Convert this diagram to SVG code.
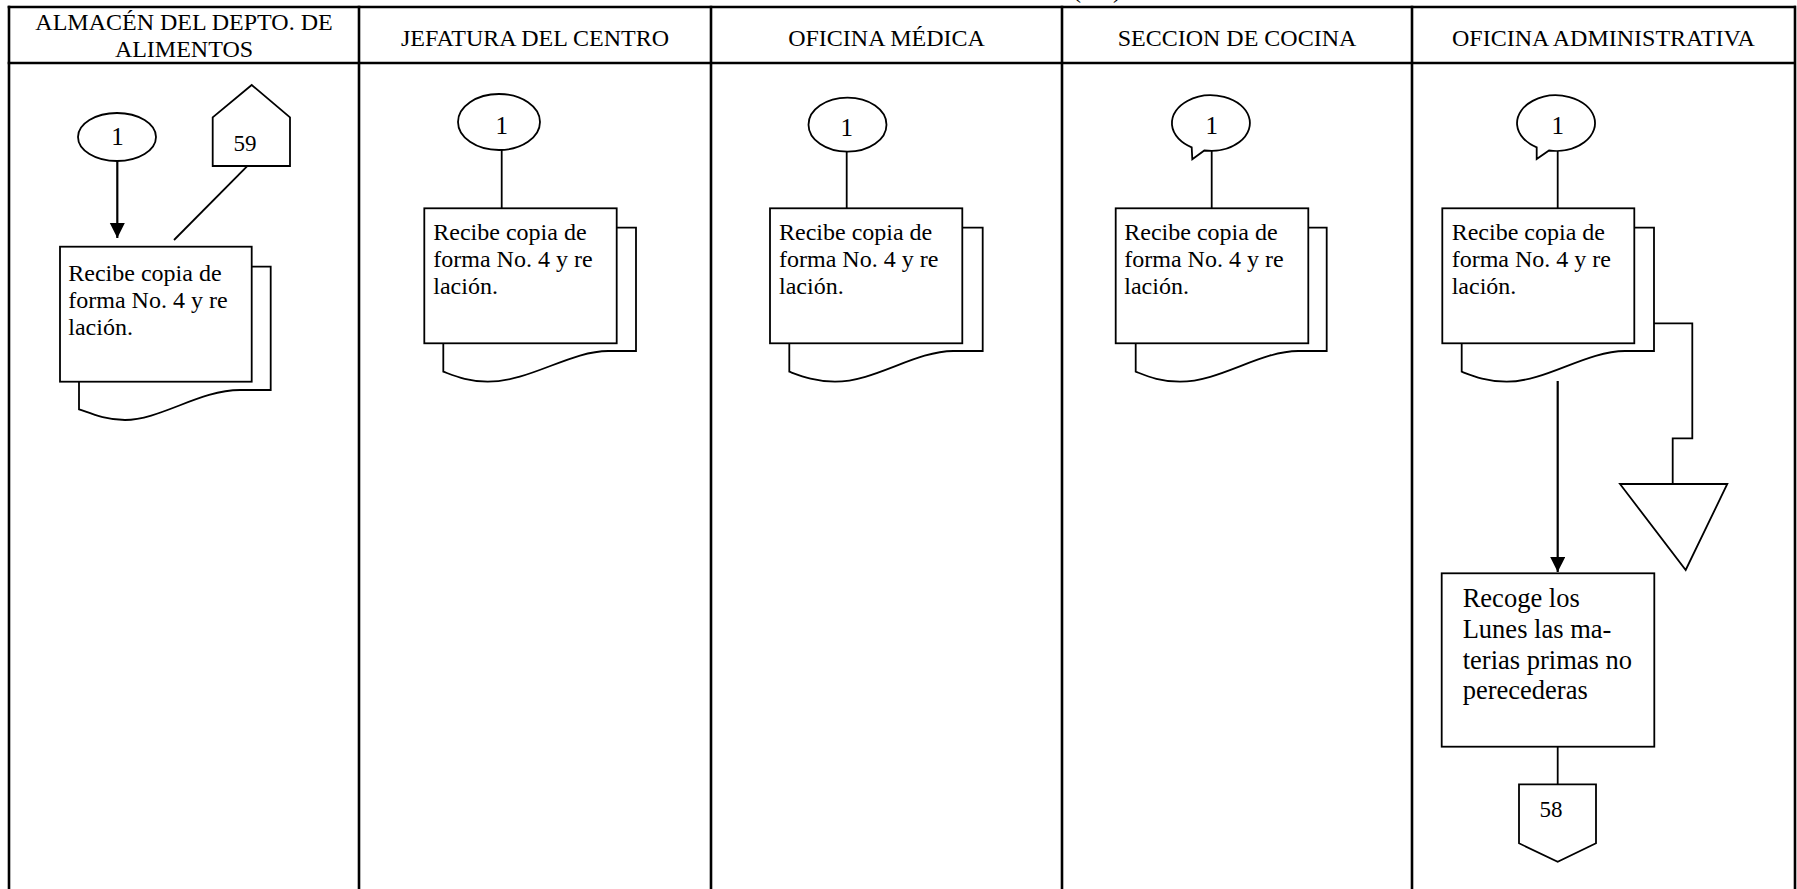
<svg xmlns="http://www.w3.org/2000/svg" width="1797" height="889" viewBox="0 0 1797 889">
  <defs>
    <marker id="arrow" markerWidth="16" markerHeight="16" refX="15" refY="7.5" orient="auto" markerUnits="userSpaceOnUse">
      <path d="M0,0 L15,7.5 L0,15 Z" fill="#000"/>
    </marker>
    <style>
      .grid { stroke: #000; stroke-width: 2.6; fill: none; }
      .shape { stroke: #000; stroke-width: 1.8; fill: #fff; }
      .line { stroke: #000; stroke-width: 1.8; fill: none; }
      .flow { stroke: #000; stroke-width: 2.2; fill: none; }
      .head { font-family: "Liberation Serif", "Times New Roman", serif; font-size: 24px; fill: #000; text-anchor: middle; }
      .body { font-family: "Liberation Serif", "Times New Roman", serif; font-size: 24px; fill: #000; }
      .big { font-family: "Liberation Serif", "Times New Roman", serif; font-size: 26.5px; fill: #000; }
      .num { font-family: "Liberation Serif", "Times New Roman", serif; font-size: 23px; fill: #000; text-anchor: middle; }
      .one { font-family: "Liberation Serif", "Times New Roman", serif; font-size: 25px; fill: #000; text-anchor: middle; }
    </style>
  </defs>

  <rect width="1797" height="889" fill="#fff"/>

  <!-- partly clipped caption above the table -->
  <text class="body" x="1073" y="-2">(</text>
  <text class="body" x="1113" y="-2">)</text>

  <!-- swimlane table -->
  <g id="table">
    <line class="grid" x1="7.7" y1="7" x2="1796" y2="7"/>
    <line class="grid" x1="7.7" y1="63" x2="1796" y2="63"/>
    <line class="grid" x1="9" y1="5.7" x2="9" y2="889"/>
    <line class="grid" x1="359" y1="5.7" x2="359" y2="889"/>
    <line class="grid" x1="711" y1="5.7" x2="711" y2="889"/>
    <line class="grid" x1="1062" y1="5.7" x2="1062" y2="889"/>
    <line class="grid" x1="1412" y1="5.7" x2="1412" y2="889"/>
    <line class="grid" x1="1795" y1="5.7" x2="1795" y2="889"/>
    <text class="head" x="184" y="30">ALMACÉN DEL DEPTO. DE</text>
    <text class="head" x="184" y="57">ALIMENTOS</text>
    <text class="head" x="535" y="46">JEFATURA DEL CENTRO</text>
    <text class="head" x="886.5" y="46">OFICINA MÉDICA</text>
    <text class="head" x="1237" y="46">SECCION DE COCINA</text>
    <text class="head" x="1603.5" y="46">OFICINA ADMINISTRATIVA</text>
  </g>

  <!-- connectors -->
  <g id="connectors">
    <line class="flow" x1="117.3" y1="161" x2="117.3" y2="238" marker-end="url(#arrow)"/>
    <line class="line" x1="251.7" y1="161.7" x2="174" y2="240"/>
    <line class="line" x1="501.7" y1="150" x2="501.7" y2="208.3"/>
    <line class="line" x1="846.7" y1="151.7" x2="846.7" y2="208.3"/>
    <line class="line" x1="1211.7" y1="150.7" x2="1211.7" y2="208.3"/>
    <line class="line" x1="1557.7" y1="150.7" x2="1557.7" y2="208.3"/>
    <line class="flow" x1="1557.7" y1="381" x2="1557.7" y2="572" marker-end="url(#arrow)"/>
    <polyline class="line" points="1654,323.3 1692.3,323.3 1692.3,438.3 1672.7,438.3 1672.7,484"/>
    <line class="line" x1="1557.7" y1="746.7" x2="1557.7" y2="784.3"/>
  </g>

  <!-- lane 1: Almacén del Depto. de Alimentos -->
  <g id="a-connector-1">
    <ellipse class="shape" cx="117" cy="137" rx="39" ry="24"/>
    <text class="one" x="117.5" y="145">1</text>
  </g>
  <g id="a-offpage-59">
    <polygon class="shape" points="251.7,85 290,117.3 290,166 212.7,166 212.7,117.3"/>
    <text class="num" x="245" y="151">59</text>
  </g>
  <g id="a-document">
    <path class="shape" d="M79,266.7 H270.7 V390 H240 C200,390 160,420 125,420 C105,420 90,413 79,409.3 Z"/>
    <rect class="shape" x="60" y="246.7" width="191.7" height="135"/>
    <text class="body"><tspan x="68.3" y="281">Recibe copia de</tspan><tspan x="68.3" y="308">forma No. 4 y re</tspan><tspan x="68.3" y="335">lación.</tspan></text>
  </g>

  <!-- lane 2: Jefatura del Centro -->
  <g id="b-connector-1">
    <ellipse class="shape" cx="499" cy="122" rx="41" ry="28"/>
    <text class="one" x="501.7" y="134">1</text>
  </g>
  <g id="b-document">
    <path class="shape" d="M443.3,227.7 H636 V351 H608.3 C570,351 530,381.7 487.7,381.7 C468,381.7 455,376 443.3,371.7 Z"/>
    <rect class="shape" x="424.3" y="208.3" width="192.4" height="135"/>
    <text class="body"><tspan x="433.3" y="240">Recibe copia de</tspan><tspan x="433.3" y="267">forma No. 4 y re</tspan><tspan x="433.3" y="294">lación.</tspan></text>
  </g>

  <!-- lane 3: Oficina Médica -->
  <g id="c-connector-1">
    <ellipse class="shape" cx="847.5" cy="124.7" rx="39" ry="27"/>
    <text class="one" x="846.7" y="136">1</text>
  </g>
  <g id="c-document">
    <path class="shape" d="M789.3,227.7 H982.7 V351 H953.3 C915,351 875,381.7 835,381.7 C815,381.7 801,376 789.3,371.7 Z"/>
    <rect class="shape" x="770" y="208.3" width="192.3" height="135"/>
    <text class="body"><tspan x="779" y="240">Recibe copia de</tspan><tspan x="779" y="267">forma No. 4 y re</tspan><tspan x="779" y="294">lación.</tspan></text>
  </g>

  <!-- lane 4: Sección de Cocina -->
  <g id="d-connector-1">
    <path class="shape" d="M1191.7,147.3 A39,27.8 0 1 1 1204.3,150.5 L1192.3,159.3 Z"/>
    <text class="one" x="1211.7" y="134">1</text>
  </g>
  <g id="d-document">
    <path class="shape" d="M1135.7,227.7 H1326.7 V351 H1298.3 C1260,351 1220,381.7 1180,381.7 C1160,381.7 1147,376 1135.7,371.7 Z"/>
    <rect class="shape" x="1115.7" y="208.3" width="192.6" height="135"/>
    <text class="body"><tspan x="1124.3" y="240">Recibe copia de</tspan><tspan x="1124.3" y="267">forma No. 4 y re</tspan><tspan x="1124.3" y="294">lación.</tspan></text>
  </g>

  <!-- lane 5: Oficina Administrativa -->
  <g id="e-connector-1">
    <path class="shape" d="M1536.7,147.3 A39,27.8 0 1 1 1549,150.5 L1536.7,159 Z"/>
    <text class="one" x="1557.7" y="134">1</text>
  </g>
  <g id="e-document">
    <path class="shape" d="M1461.7,227.7 H1654 V351 H1625 C1586,351 1546,381.7 1506.7,381.7 C1487,381.7 1473,376 1461.7,371.7 Z"/>
    <rect class="shape" x="1442.3" y="208.3" width="192" height="135"/>
    <text class="body"><tspan x="1451.7" y="240">Recibe copia de</tspan><tspan x="1451.7" y="267">forma No. 4 y re</tspan><tspan x="1451.7" y="294">lación.</tspan></text>
  </g>
  <g id="e-storage">
    <polygon class="shape" points="1620,484 1727.3,484 1685.7,570"/>
  </g>
  <g id="e-process">
    <rect class="shape" x="1441.7" y="573.3" width="212.6" height="173.4"/>
    <text class="big"><tspan x="1462.7" y="607">Recoge los</tspan><tspan x="1462.7" y="638">Lunes las ma-</tspan><tspan x="1462.7" y="669">terias primas no</tspan><tspan x="1462.7" y="699">perecederas</tspan></text>
  </g>
  <g id="e-offpage-58">
    <polygon class="shape" points="1519,784.3 1596,784.3 1596,843.3 1557.7,861.7 1519,843.3"/>
    <text class="num" x="1551" y="817">58</text>
  </g>
</svg>
